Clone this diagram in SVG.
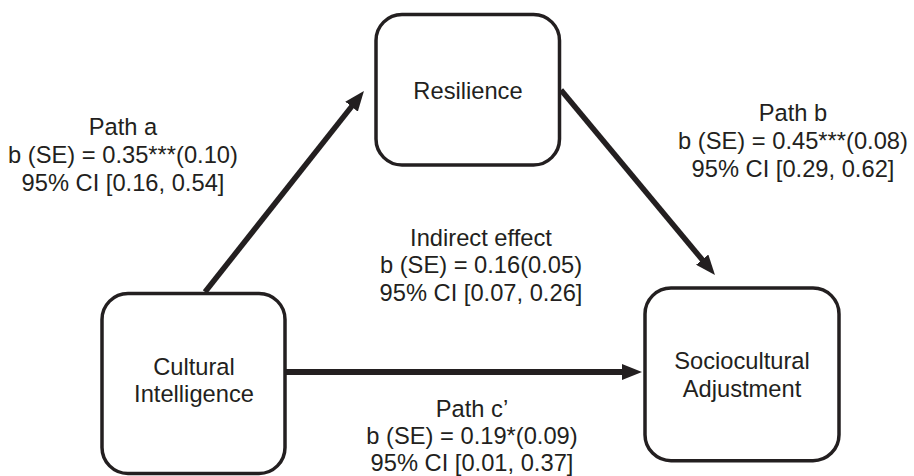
<svg xmlns="http://www.w3.org/2000/svg" width="914" height="476" viewBox="0 0 914 476">
  <style>
    .box { fill: #ffffff; stroke: #231f20; stroke-width: 3.5; }
    .lbl { font-family: "Liberation Sans", Arial, sans-serif; font-size: 23.7px; fill: #231f20; text-anchor: middle; }
    .conn { stroke: #231f20; stroke-width: 5.5; fill: none; }
  </style>
  <defs>
    <marker id="arrow" markerUnits="userSpaceOnUse" markerWidth="20" markerHeight="16" refX="8" refY="8" orient="auto">
      <path d="M0,0 L20,8 L0,16 z" fill="#231f20"/>
    </marker>
  </defs>
  <rect width="914" height="476" fill="#ffffff"/>

  <g id="connectors">
    <line class="conn" x1="205" y1="292" x2="356.5" y2="100.4" marker-end="url(#arrow)"/>
    <line class="conn" x1="561" y1="90" x2="707.3" y2="265.8" marker-end="url(#arrow)"/>
    <line class="conn" style="stroke-width:6" x1="285" y1="372" x2="630" y2="372" marker-end="url(#arrow)"/>
  </g>

  <g id="node-resilience">
    <rect class="box" x="376" y="14.5" width="183.5" height="150.5" rx="26"/>
    <text class="lbl" x="468" y="99">Resilience</text>
  </g>

  <g id="node-cultural-intelligence">
    <rect class="box" x="102" y="293.5" width="183" height="180" rx="26"/>
    <text class="lbl" x="194" y="375">Cultural</text>
    <text class="lbl" x="194" y="402">Intelligence</text>
  </g>

  <g id="node-sociocultural-adjustment">
    <rect class="box" x="645" y="288" width="194" height="172.7" rx="26"/>
    <text class="lbl" x="742" y="369">Sociocultural</text>
    <text class="lbl" x="742" y="397">Adjustment</text>
  </g>

  <g id="label-path-a">
    <text class="lbl" x="123" y="135">Path a</text>
    <text class="lbl" x="123" y="163">b (SE) = 0.35***(0.10)</text>
    <text class="lbl" x="123" y="191">95% CI [0.16, 0.54]</text>
  </g>

  <g id="label-path-b">
    <text class="lbl" x="793" y="121">Path b</text>
    <text class="lbl" x="793" y="149">b (SE) = 0.45***(0.08)</text>
    <text class="lbl" x="793" y="177">95% CI [0.29, 0.62]</text>
  </g>

  <g id="label-indirect">
    <text class="lbl" x="481" y="246">Indirect effect</text>
    <text class="lbl" x="481" y="273">b (SE) = 0.16(0.05)</text>
    <text class="lbl" x="481" y="300.5">95% CI [0.07, 0.26]</text>
  </g>

  <g id="label-path-c">
    <text class="lbl" x="472" y="417">Path c’</text>
    <text class="lbl" x="472" y="444">b (SE) = 0.19*(0.09)</text>
    <text class="lbl" x="472" y="471">95% CI [0.01, 0.37]</text>
  </g>
</svg>
